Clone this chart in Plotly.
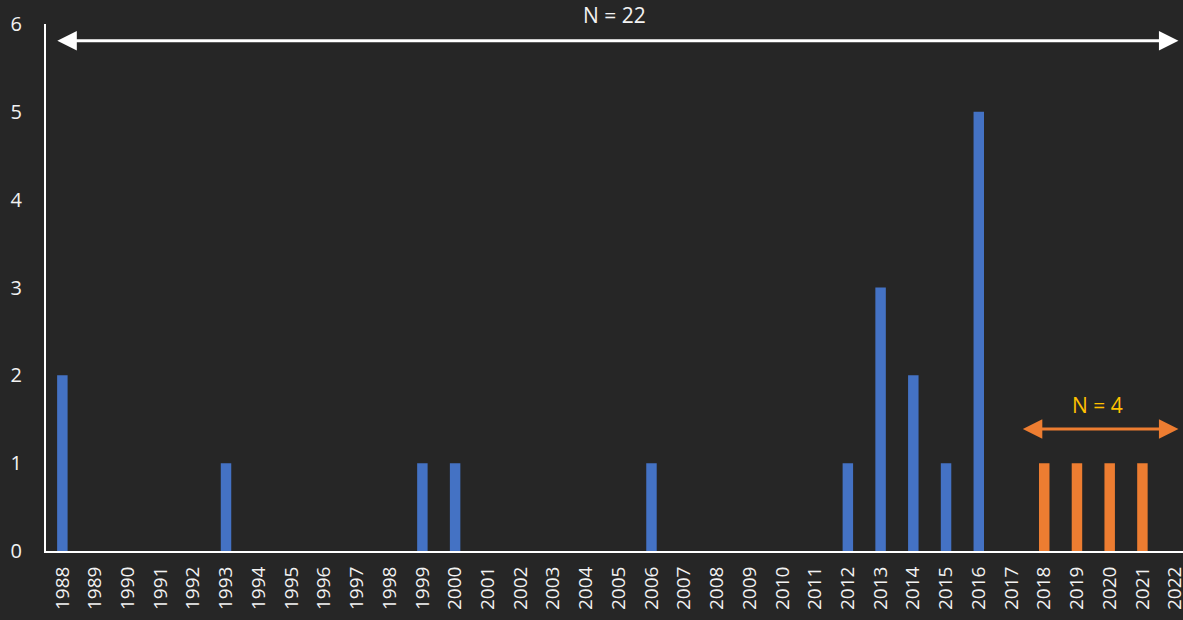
import plotly.graph_objects as go

years = [str(y) for y in range(1988, 2023)]
blue_vals = {"1988": 2, "1993": 1, "1999": 1, "2000": 1, "2006": 1, "2012": 1,
             "2013": 3, "2014": 2, "2015": 1, "2016": 5}
orange_vals = {"2018": 1, "2019": 1, "2020": 1, "2021": 1}
blue_series = [blue_vals.get(y, 0) for y in years]
orange_series = [orange_vals.get(y, 0) for y in years]
y_ticks = [0, 1, 2, 3, 4, 5, 6]

BG = "#262626"
FONT = "'Open Sans', Lato, sans-serif"
TXT = "#F2F2F2"

fig = go.Figure()
fig.add_trace(go.Bar(x=years, y=blue_series, marker=dict(color="#4472C4", line=dict(width=0)),
                     width=0.32, showlegend=False))
fig.add_trace(go.Bar(x=years, y=orange_series, marker=dict(color="#ED7D31", line=dict(width=0)),
                     width=0.32, showlegend=False))

fig.update_layout(
    width=1183, height=620,
    paper_bgcolor=BG, plot_bgcolor=BG,
    margin=dict(l=46, r=0, t=24, b=69, autoexpand=False),
    barmode="overlay",
    font=dict(family=FONT, color=TXT, size=18),
)
fig.update_xaxes(
    type="category", categoryorder="array", categoryarray=years,
    range=[-0.5, 34.24], autorange=False, automargin=False,
    tickangle=-90, showgrid=False, zeroline=False,
    showline=True, linecolor="#FFFFFF", linewidth=2, ticks="",
    tickfont=dict(size=19, color=TXT, family=FONT), ticklabelstandoff=6,
)
fig.update_yaxes(
    range=[0, 6], tickvals=y_ticks, showgrid=False, zeroline=False, automargin=False,
    showline=True, linecolor="#FFFFFF", linewidth=2, ticks="",
    tickfont=dict(size=20, color=TXT, family=FONT), ticklabelstandoff=18,
)

# N = 22 double arrow
fig.add_annotation(x=34.1, y=5.81, ax=-0.2, ay=5.81, xref="x", yref="y",
                   axref="x", ayref="y", text="", showarrow=True,
                   arrowhead=2, startarrowhead=2, arrowside="end+start",
                   arrowsize=1.3, startarrowsize=1.3, arrowwidth=3, arrowcolor="#FFFFFF")
fig.add_annotation(x=0.5, xref="paper", y=1, yref="paper", yanchor="middle", yshift=9,
                   text="N = 22", showarrow=False, font=dict(size=21, color=TXT, family=FONT))
# N = 4 double arrow
fig.add_annotation(x=34.1, y=1.39, ax=29.3, ay=1.39, xref="x", yref="y",
                   axref="x", ayref="y", text="", showarrow=True,
                   arrowhead=2, startarrowhead=2, arrowside="end+start",
                   arrowsize=1.3, startarrowsize=1.3, arrowwidth=3, arrowcolor="#ED7D31")
fig.add_annotation(x=31.62, y=1.66, xref="x", yref="y", yanchor="middle",
                   text="N = 4", showarrow=False, font=dict(size=21, color="#FFC000", family=FONT))

fig.write_html("out.html", config={"displayModeBar": False},
               post_script="document.body.style.margin='0';document.body.style.overflow='hidden';")
